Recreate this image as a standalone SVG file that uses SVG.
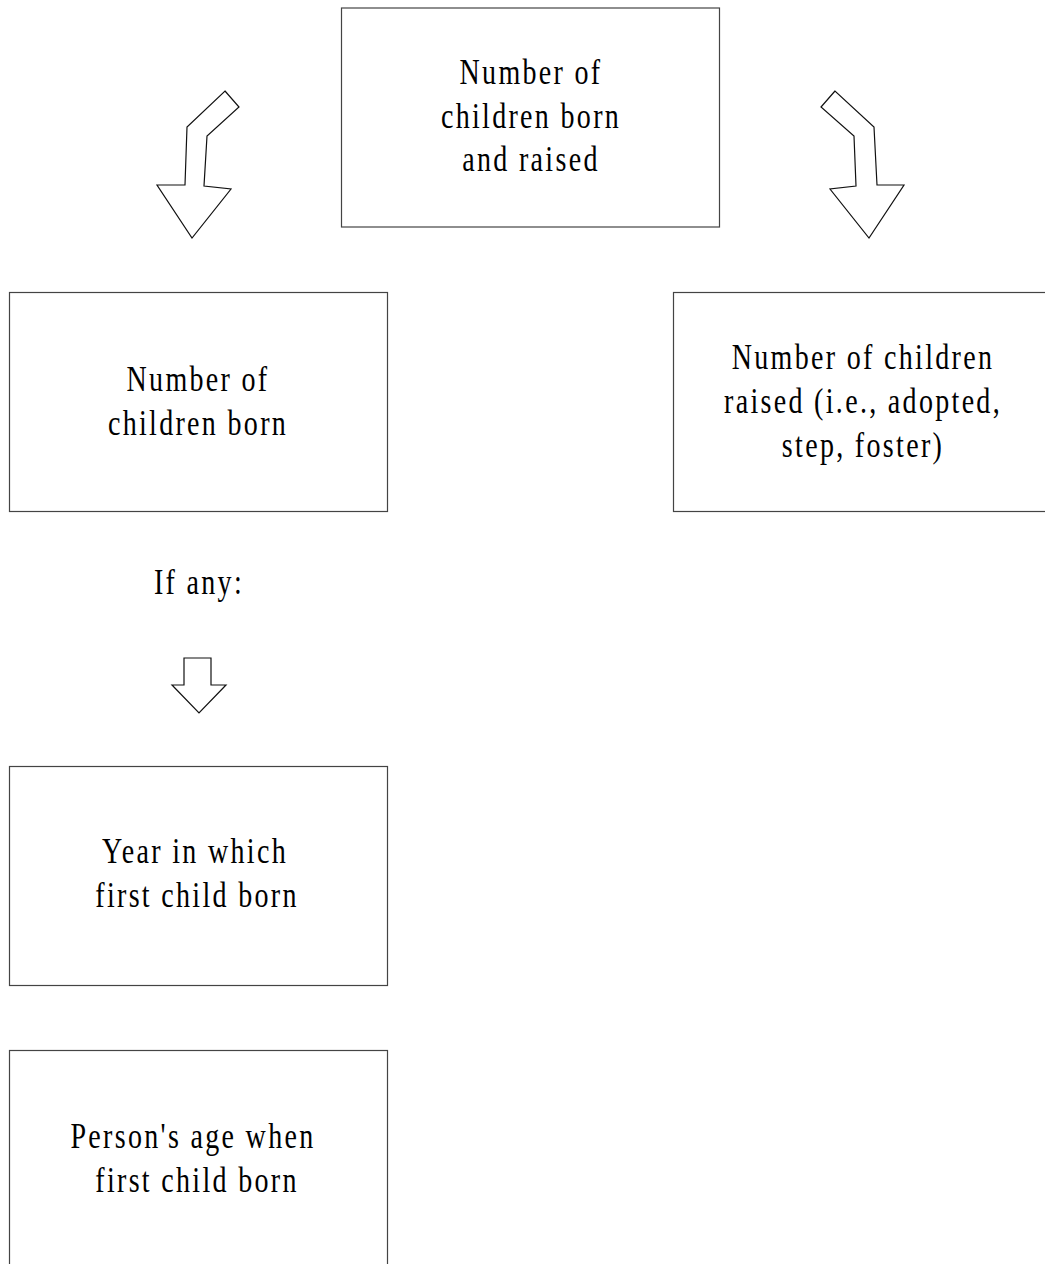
<svg xmlns="http://www.w3.org/2000/svg" width="1045" height="1264" viewBox="0 0 1045 1264">
  <style>
    .box { fill: #ffffff; stroke: #444444; stroke-width: 1.2; }
    .arrow { fill: #ffffff; stroke: #111111; stroke-width: 1.2; stroke-linejoin: miter; }
    .label { font-family: "Liberation Serif", "Times New Roman", serif; font-size: 35px; letter-spacing: 2.9px; fill: #000000; text-anchor: middle; }
  </style>
  <rect width="1045" height="1264" fill="#ffffff"/>

  <g id="connectors">
    <polygon class="arrow" points="225,91 239,107 207,136 204,186 231,189 192,238 157,185 185,185 187,127"/>
    <polygon class="arrow" points="835,91 821,107 854,136 856,186 830,189 869,238 904,185 877,185 874,127"/>
    <polygon class="arrow" points="184,658 211,658 211,685 226,685 199,713 172,685 184,685"/>
  </g>

  <g id="node-total">
    <rect class="box" x="341.5" y="8" width="378" height="219"/>
    <text class="label" transform="translate(531,84) scale(0.8,1)" x="0" y="0">Number of</text>
    <text class="label" transform="translate(531,128) scale(0.8,1)" x="0" y="0">children born</text>
    <text class="label" transform="translate(531,171) scale(0.8,1)" x="0" y="0">and raised</text>
  </g>

  <g id="node-born">
    <rect class="box" x="9.5" y="292.5" width="378" height="219"/>
    <text class="label" transform="translate(198,391) scale(0.8,1)" x="0" y="0">Number of</text>
    <text class="label" transform="translate(198,435) scale(0.8,1)" x="0" y="0">children born</text>
  </g>

  <g id="node-raised">
    <rect class="box" x="673.5" y="292.5" width="378" height="219"/>
    <text class="label" transform="translate(863,369) scale(0.8,1)" x="0" y="0">Number of children</text>
    <text class="label" transform="translate(863,413) scale(0.8,1)" x="0" y="0">raised (i.e., adopted,</text>
    <text class="label" transform="translate(863,457) scale(0.8,1)" x="0" y="0">step, foster)</text>
  </g>

  <g id="note-if-any">
    <text class="label" transform="translate(199,594) scale(0.8,1)" x="0" y="0">If any:</text>
  </g>

  <g id="node-year">
    <rect class="box" x="9.5" y="766.5" width="378" height="219"/>
    <text class="label" transform="translate(195,863) scale(0.8,1)" x="0" y="0">Year in which</text>
    <text class="label" transform="translate(197,907) scale(0.8,1)" x="0" y="0">first child born</text>
  </g>

  <g id="node-age">
    <rect class="box" x="9.5" y="1050.5" width="378" height="219"/>
    <text class="label" transform="translate(193,1148) scale(0.8,1)" x="0" y="0">Person's age when</text>
    <text class="label" transform="translate(197,1192) scale(0.8,1)" x="0" y="0">first child born</text>
  </g>
</svg>
